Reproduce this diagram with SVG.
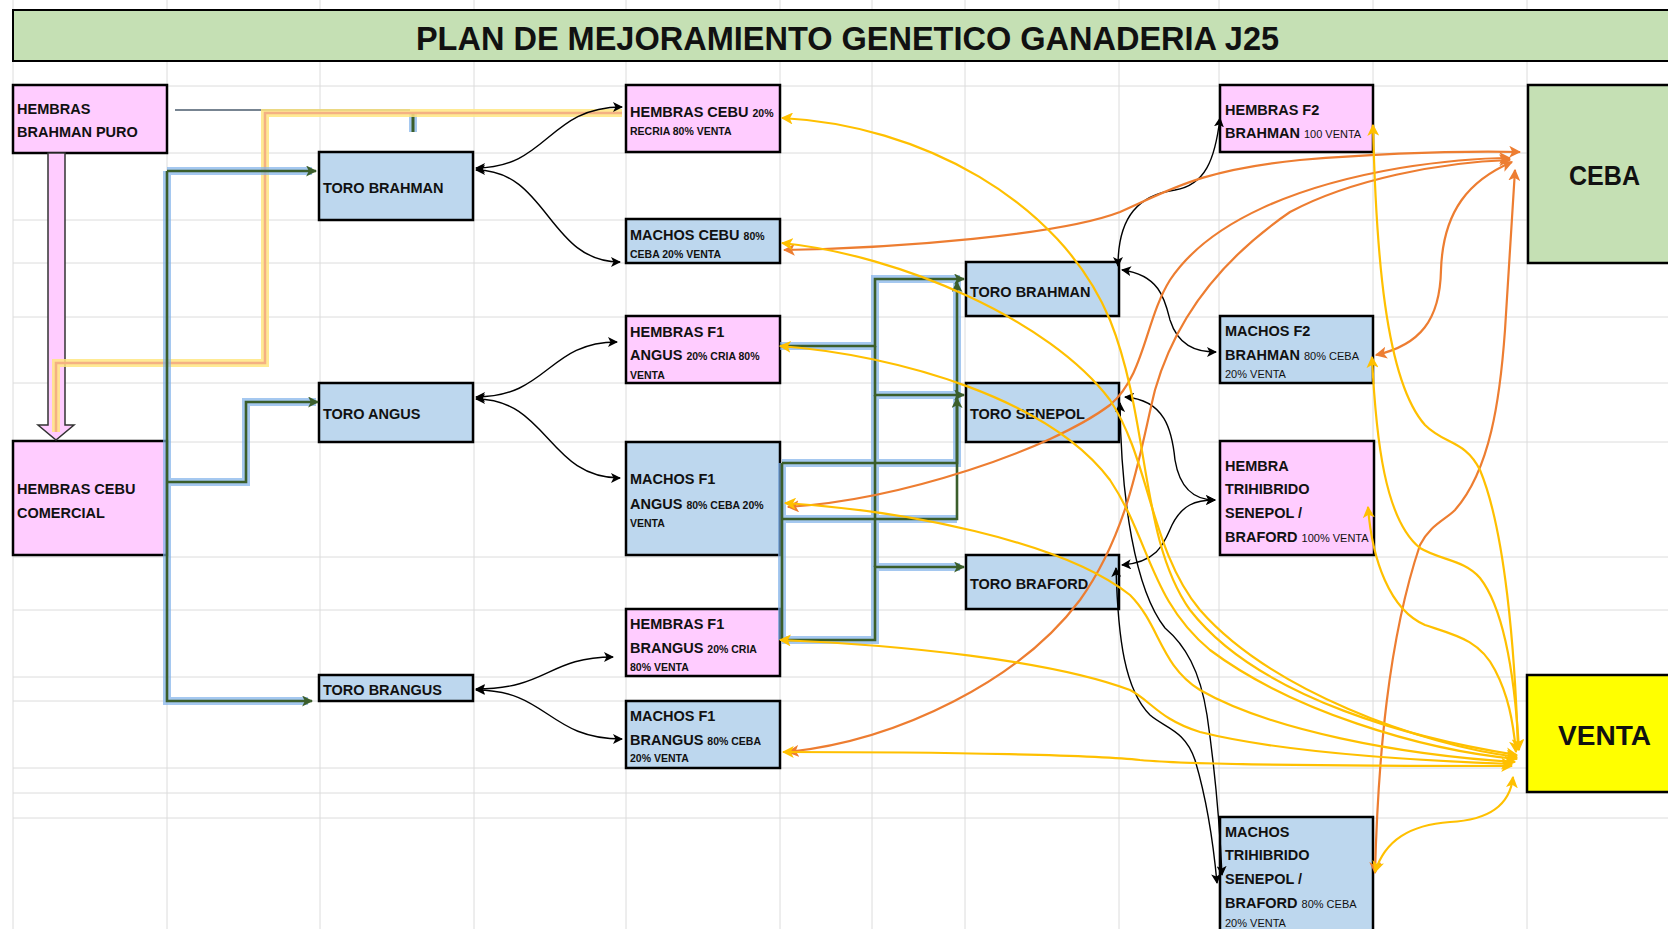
<svg xmlns="http://www.w3.org/2000/svg" width="1668" height="929" viewBox="0 0 1668 929">
<style>
.grid line{stroke:#dcdcdc;stroke-width:1}
.box{stroke:#000;stroke-width:2.5}
.pink{fill:#ffccff}
.blue{fill:#bdd7ee}
.green{fill:#c5e0b4}
.yel{fill:#ffff00}
.t{font-family:"Liberation Sans",Arial,sans-serif;font-weight:bold;font-size:14.5px;fill:#111}
.s{font-size:10.5px}
.r{font-size:11px;font-weight:normal}
.big{font-family:"Liberation Sans",Arial,sans-serif;font-weight:bold;font-size:27px;fill:#111}
.k{fill:none;stroke:#000;stroke-width:1.4;marker-start:url(#mk);marker-end:url(#mk)}
.o{fill:none;stroke:#ed7d31;stroke-width:2.2;marker-start:url(#mo);marker-end:url(#mo)}
.y{fill:none;stroke:#ffc000;stroke-width:2.2;marker-start:url(#my);marker-end:url(#my)}
.glow{fill:none;stroke:#7fb0ea;stroke-width:8;stroke-opacity:0.7;stroke-linejoin:miter}
.gl{fill:none;stroke:#3b5e2b;stroke-width:2.6}
</style>
<defs>
<marker id="mk" viewBox="0 0 10 10" refX="9" refY="5" markerWidth="10" markerHeight="10" markerUnits="userSpaceOnUse" orient="auto-start-reverse"><path d="M0,0 L10,5 L0,10 L2.5,5 z" fill="#000"/></marker>
<marker id="mo" viewBox="0 0 10 10" refX="9" refY="5" markerWidth="12" markerHeight="12" markerUnits="userSpaceOnUse" orient="auto-start-reverse"><path d="M0,0 L10,5 L0,10 L2.5,5 z" fill="#ed7d31"/></marker>
<marker id="my" viewBox="0 0 10 10" refX="9" refY="5" markerWidth="12" markerHeight="12" markerUnits="userSpaceOnUse" orient="auto-start-reverse"><path d="M0,0 L10,5 L0,10 L2.5,5 z" fill="#ffc000"/></marker>
<marker id="mg" viewBox="0 0 10 10" refX="9" refY="5" markerWidth="11" markerHeight="11" markerUnits="userSpaceOnUse" orient="auto"><path d="M0,0 L10,5 L0,10 L2.5,5 z" fill="#3b5e2b"/></marker>
</defs>
<rect x="0" y="0" width="1668" height="929" fill="#fff"/>
<g class="grid">
<line x1="13" y1="0" x2="13" y2="929"/><line x1="167" y1="0" x2="167" y2="929"/><line x1="320" y1="0" x2="320" y2="929"/><line x1="474" y1="0" x2="474" y2="929"/><line x1="626" y1="0" x2="626" y2="929"/><line x1="780" y1="0" x2="780" y2="929"/><line x1="872" y1="0" x2="872" y2="929"/><line x1="965" y1="0" x2="965" y2="929"/><line x1="1119" y1="0" x2="1119" y2="929"/><line x1="1219" y1="0" x2="1219" y2="929"/><line x1="1373" y1="0" x2="1373" y2="929"/><line x1="1527" y1="0" x2="1527" y2="929"/>
<line x1="13" y1="86" x2="1668" y2="86"/><line x1="13" y1="153" x2="1668" y2="153"/><line x1="13" y1="220" x2="1668" y2="220"/><line x1="13" y1="263" x2="1668" y2="263"/><line x1="13" y1="317" x2="1668" y2="317"/><line x1="13" y1="383" x2="1668" y2="383"/><line x1="13" y1="442" x2="1668" y2="442"/><line x1="13" y1="557" x2="1668" y2="557"/><line x1="13" y1="610" x2="1668" y2="610"/><line x1="13" y1="677" x2="1668" y2="677"/><line x1="13" y1="701" x2="1668" y2="701"/><line x1="13" y1="768" x2="1668" y2="768"/><line x1="13" y1="793" x2="1668" y2="793"/><line x1="13" y1="818" x2="1668" y2="818"/>
</g>
<g id="title">
<rect x="13" y="10" width="1665" height="51" class="green" stroke="#000" stroke-width="2"/>
<text x="847.5" y="50" text-anchor="middle" font-family="Liberation Sans, Arial, sans-serif" font-weight="bold" font-size="32.5" fill="#111">PLAN DE MEJORAMIENTO GENETICO GANADERIA J25</text>
</g>
<g id="n-hembras-brahman-puro"><rect x="13" y="85" width="154" height="68" class="box pink"/><text class="t" x="17" y="114">HEMBRAS</text><text class="t" x="17" y="137">BRAHMAN PURO</text></g>
<g id="n-toro-brahman-1"><rect x="319" y="152" width="154" height="68" class="box blue"/><text class="t" x="323" y="193">TORO BRAHMAN</text></g>
<g id="n-hembras-cebu"><rect x="626" y="85" width="154" height="67" class="box pink"/><text class="t" x="630" y="117">HEMBRAS CEBU <tspan class="s">20%</tspan></text><text class="t s" x="630" y="135">RECRIA 80% VENTA</text></g>
<g id="n-machos-cebu"><rect x="626" y="219" width="154" height="44" class="box blue"/><text class="t" x="630" y="240">MACHOS CEBU <tspan class="s">80%</tspan></text><text class="t s" x="630" y="258">CEBA 20% VENTA</text></g>
<g id="n-hembras-f1-angus"><rect x="626" y="316" width="154" height="67" class="box pink"/><text class="t" x="630" y="337">HEMBRAS F1</text><text class="t" x="630" y="360">ANGUS <tspan class="s">20% CRIA 80%</tspan></text><text class="t s" x="630" y="379">VENTA</text></g>
<g id="n-toro-angus"><rect x="319" y="383" width="154" height="59" class="box blue"/><text class="t" x="323" y="419">TORO ANGUS</text></g>
<g id="n-hembras-cebu-comercial"><rect x="13" y="441" width="154" height="114" class="box pink"/><text class="t" x="17" y="494">HEMBRAS CEBU</text><text class="t" x="17" y="518">COMERCIAL</text></g>
<g id="n-machos-f1-angus"><rect x="626" y="442" width="154" height="113" class="box blue"/><text class="t" x="630" y="484">MACHOS F1</text><text class="t" x="630" y="509">ANGUS <tspan class="s">80% CEBA 20%</tspan></text><text class="t s" x="630" y="527">VENTA</text></g>
<g id="n-hembras-f1-brangus"><rect x="626" y="609" width="154" height="67" class="box pink"/><text class="t" x="630" y="629">HEMBRAS F1</text><text class="t" x="630" y="653">BRANGUS <tspan class="s">20% CRIA</tspan></text><text class="t s" x="630" y="671">80% VENTA</text></g>
<g id="n-toro-brangus"><rect x="319" y="675" width="154" height="26" class="box blue"/><text class="t" x="323" y="695">TORO BRANGUS</text></g>
<g id="n-machos-f1-brangus"><rect x="626" y="701" width="154" height="67" class="box blue"/><text class="t" x="630" y="721">MACHOS F1</text><text class="t" x="630" y="745">BRANGUS <tspan class="s">80% CEBA</tspan></text><text class="t s" x="630" y="762">20% VENTA</text></g>
<g id="n-hembras-f2-brahman"><rect x="1220" y="85" width="153" height="67" class="box pink"/><text class="t" x="1225" y="115">HEMBRAS F2</text><text class="t" x="1225" y="138">BRAHMAN <tspan class="r">100 VENTA</tspan></text></g>
<g id="n-ceba"><rect x="1528" y="85" width="150" height="178" class="box green"/><text class="big" x="1569" y="185" textLength="71" lengthAdjust="spacingAndGlyphs">CEBA</text></g>
<g id="n-toro-brahman-2"><rect x="966" y="262" width="153" height="54" class="box blue"/><text class="t" x="970" y="297">TORO BRAHMAN</text></g>
<g id="n-machos-f2-brahman"><rect x="1220" y="316" width="153" height="67" class="box blue"/><text class="t" x="1225" y="336">MACHOS F2</text><text class="t" x="1225" y="360">BRAHMAN <tspan class="r">80% CEBA</tspan></text><text class="t r" x="1225" y="378">20% VENTA</text></g>
<g id="n-toro-senepol"><rect x="966" y="383" width="153" height="59" class="box blue"/><text class="t" x="970" y="419">TORO SENEPOL</text></g>
<g id="n-hembra-trihibrido"><rect x="1220" y="441" width="154" height="114" class="box pink"/><text class="t" x="1225" y="471">HEMBRA</text><text class="t" x="1225" y="494">TRIHIBRIDO</text><text class="t" x="1225" y="518">SENEPOL /</text><text class="t" x="1225" y="542">BRAFORD <tspan class="r">100% VENTA</tspan></text></g>
<g id="n-toro-braford"><rect x="966" y="555" width="153" height="54" class="box blue"/><text class="t" x="970" y="589">TORO BRAFORD</text></g>
<g id="n-venta"><rect x="1527" y="675" width="150" height="117" class="box yel"/><text class="big" x="1558" y="745" textLength="93" lengthAdjust="spacingAndGlyphs">VENTA</text></g>
<g id="n-machos-trihibrido"><rect x="1220" y="817" width="153" height="130" class="box blue"/><text class="t" x="1225" y="837">MACHOS</text><text class="t" x="1225" y="860">TRIHIBRIDO</text><text class="t" x="1225" y="884">SENEPOL /</text><text class="t" x="1225" y="908">BRAFORD <tspan class="r">80% CEBA</tspan></text><text class="t r" x="1225" y="927">20% VENTA</text></g>
<g id="connectors">
<path d="M48,153 H65 V425 H74 L56,440 L38,425 H48 Z" fill="#ffccff" stroke="#333" stroke-width="1.5"/>
<line x1="175" y1="110" x2="410" y2="110" stroke="#4a5b6c" stroke-width="1.5"/>
<line x1="413" y1="112" x2="413" y2="132" stroke="#7fb0ea" stroke-width="8" stroke-opacity="0.7"/>
<line x1="413" y1="112" x2="413" y2="132" stroke="#3b5e2b" stroke-width="3"/>
<path d="M622,113 H265 V363 H56 V432" fill="none" stroke="#ffe680" stroke-width="8" stroke-opacity="0.85"/>
<path d="M622,113 H265 V363 H56 V432" fill="none" stroke="#f4b183" stroke-width="2.5"/>
<path class="glow" d="M167,171 H312 M167,171 V701 H308 M167,482 H246 V402 H316"/>
<path class="gl" d="M167,171 H316" marker-end="url(#mg)"/>
<path class="gl" d="M167,171 V701 H312" marker-end="url(#mg)"/>
<path class="gl" d="M167,482 H246 V402 H318" marker-end="url(#mg)"/>
<path class="glow" d="M780,346 H875 V279 H960 M875,279 V640 H782 M875,395 H960 M875,567 H960 M782,463 H957 V279 M782,519 H957 M782,463 V640"/>
<path class="gl" d="M780,346 H875 V279 H964" marker-end="url(#mg)"/>
<path class="gl" d="M875,346 V395 H964" marker-end="url(#mg)"/>
<path class="gl" d="M782,640 H875 V567 H964" marker-end="url(#mg)"/>
<path class="gl" d="M875,395 V567"/>
<path class="gl" d="M782,463 H957 V282" marker-end="url(#mg)"/>
<path class="gl" d="M782,519 H957 V398" marker-end="url(#mg)"/>
<path class="gl" d="M782,463 V640"/>
<path class="k" d="M476,168 C548,168 548,107 622,107"/>
<path class="k" d="M476,170 C548,170 548,262 620,262"/>
<path class="k" d="M476,397 C548,397 548,342 617,342"/>
<path class="k" d="M476,399 C548,399 548,478 620,478"/>
<path class="k" d="M476,689 C548,689 548,657 613,657"/>
<path class="k" d="M476,690 C548,690 548,739 622,739"/>
<path class="k" d="M1118,266 C1118,215 1140,195 1175,190 C1205,185 1215,160 1220,118"/>
<path class="k" d="M1122,270 C1160,275 1165,300 1170,320 C1178,345 1195,352 1216,352"/>
<path class="k" d="M1125,397 C1165,400 1172,430 1175,460 C1180,490 1195,500 1215,500"/>
<path class="k" d="M1122,565 C1160,562 1165,540 1172,525 C1182,505 1195,500 1215,500"/>
<path class="k" d="M1120,403 C1121,500 1135,590 1165,628 C1185,645 1200,670 1207,715 C1215,770 1220,830 1222,875"/>
<path class="k" d="M1116,568 C1118,640 1125,690 1150,715 C1165,728 1185,730 1195,760 C1207,800 1213,840 1217,883"/>
<path class="o" d="M784,250 C900,248 1060,235 1120,212 C1170,190 1200,170 1300,160 C1400,152 1470,151 1520,152"/>
<path class="o" d="M788,507 C900,500 1050,450 1110,405 C1145,375 1145,320 1170,280 C1210,220 1300,185 1400,168 C1450,160 1490,158 1510,158"/>
<path class="o" d="M788,752 C900,740 1020,680 1080,600 C1130,530 1140,450 1155,390 C1175,320 1220,260 1290,212 C1350,180 1440,162 1510,160"/>
<path class="o" d="M1376,355 C1420,345 1440,320 1441,270 C1443,210 1470,180 1512,162"/>
<path class="o" d="M1375,873 C1378,760 1388,640 1420,545 C1430,525 1445,520 1455,510 C1490,470 1500,400 1505,330 C1510,250 1513,200 1515,170"/>
<path class="y" d="M782,118 C920,125 1060,200 1110,320 C1150,420 1140,540 1190,610 C1260,700 1420,740 1517,755"/>
<path class="y" d="M782,243 C900,255 1050,320 1110,400 C1150,460 1150,550 1200,610 C1270,690 1420,745 1517,757"/>
<path class="y" d="M780,346 C900,355 1050,400 1110,480 C1150,540 1150,600 1210,650 C1290,710 1420,750 1517,759"/>
<path class="y" d="M785,503 C900,510 1060,540 1130,595 C1160,625 1160,665 1200,690 C1270,730 1400,755 1515,762"/>
<path class="y" d="M780,640 C900,645 1050,660 1130,690 C1150,700 1160,720 1200,732 C1280,752 1400,760 1512,764"/>
<path class="y" d="M783,752 C950,752 1100,755 1140,760 C1200,766 1400,766 1512,766"/>
<path class="y" d="M1373,125 C1376,250 1385,380 1425,425 C1445,445 1465,440 1480,470 C1505,530 1515,650 1518,750"/>
<path class="y" d="M1372,357 C1376,440 1385,520 1420,548 C1440,560 1465,560 1480,578 C1505,610 1515,680 1519,750"/>
<path class="y" d="M1368,507 C1372,560 1390,610 1425,625 C1455,635 1480,640 1495,670 C1508,695 1513,720 1516,752"/>
<path class="y" d="M1513,777 C1510,805 1490,820 1450,822 C1410,825 1385,840 1375,872"/>
</g>
</svg>
